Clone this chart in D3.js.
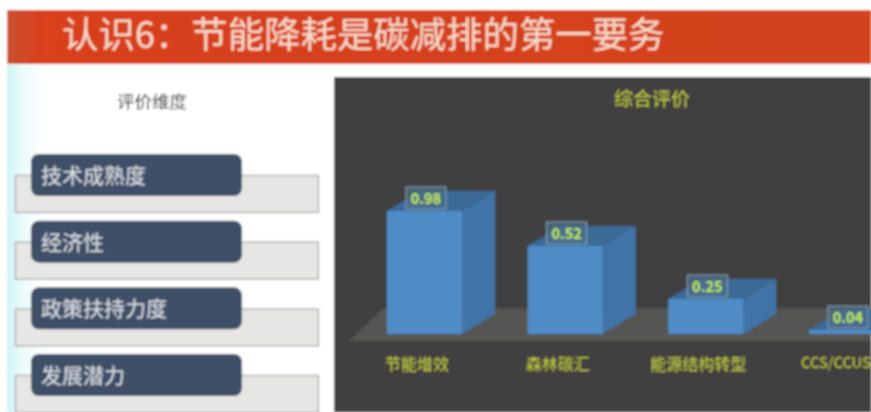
<!DOCTYPE html>
<html><head><meta charset="utf-8">
<script src="https://cdn.jsdelivr.net/npm/d3@7"></script>
<style>html,body{margin:0;padding:0;background:#fff;overflow:hidden}svg{display:block}text{font-family:"Noto Sans CJK SC","Noto Sans",sans-serif}</style>
</head><body><svg id="c" width="871" height="412"></svg>
<script>
const pageTitle = "认识6：节能降耗是碳减排的第一要务";
const leftTitle = "评价维度";
const chartTitle = "综合评价";
const dimensions = ["技术成熟度", "经济性", "政策扶持力度", "发展潜力"];
const categories = ["节能增效", "森林碳汇", "能源结构转型", "CCS/CCUS"];
const values = [0.98, 0.52, 0.25, 0.04];

const W = 871, H = 412;
const svg = d3.select("#c");
const defs = svg.append("defs");
const blur = defs.append("filter").attr("id","soft").attr("x","-5%").attr("y","-5%").attr("width","110%").attr("height","110%");
blur.append("feGaussianBlur").attr("stdDeviation",0.8);
const lg = defs.append("linearGradient").attr("id","edge");
lg.append("stop").attr("offset",0).attr("stop-color","#cff4f4");
lg.append("stop").attr("offset",0.4).attr("stop-color","#ecfbfb");
lg.append("stop").attr("offset",1).attr("stop-color","#ffffff");
const tg = defs.append("linearGradient").attr("id","band");
tg.append("stop").attr("offset",0).attr("stop-color","#c9512f");
tg.append("stop").attr("offset",0.04).attr("stop-color","#d9401d");
tg.append("stop").attr("offset",1).attr("stop-color","#d2431f");

const root = svg.append("g").attr("filter","url(#soft)");
root.append("rect").attr("width",W).attr("height",H).attr("fill","#fff");
root.append("rect").attr("x",7).attr("y",65).attr("width",38).attr("height",H-65).attr("fill","url(#edge)");
root.append("rect").attr("x",7).attr("y",10).attr("width",W-7).attr("height",54).attr("fill","url(#band)");
root.append("text").text(pageTitle).attr("x",62).attr("y",48).attr("font-size",36.4).attr("fill","#f8dccb");
root.append("text").text(leftTitle).attr("x",152).attr("y",108).attr("text-anchor","middle").attr("font-size",17.5).attr("fill","#222");

// left column
const rowY = d3.scalePoint().domain(dimensions).range([154,354]);
const rows = root.selectAll("g.row").data(dimensions).join("g").attr("class","row")
  .attr("transform",d=>`translate(0,${rowY(d)})`);
rows.append("rect").attr("x",15.5).attr("y",21.5).attr("width",303).attr("height",37)
  .attr("fill","#e6e7e4").attr("stroke","#a8a8a8").attr("stroke-width",1.3);
rows.append("rect").attr("x",31).attr("y",0).attr("width",211).attr("height",42).attr("rx",8)
  .attr("fill","#3f5068");
rows.append("text").text(d=>d).attr("x",41).attr("y",29).attr("font-size",21).attr("fill","#dfe3e8");

// chart panel
root.append("rect").attr("x",334).attr("y",77).attr("width",W-334).attr("height",H-77).attr("fill","#3f3f3f");
root.append("text").text(chartTitle).attr("x",652).attr("y",106).attr("text-anchor","middle").attr("font-size",19).attr("fill","#c3d03c");

const dx = 33, dy = -20, base = 334;
root.append("path").attr("d",`M349,341L383,308.5L${W},308.5L${W},341Z`).attr("fill","#555453");

const x = d3.scaleBand().domain(categories).range([387,884]).paddingInner(0.4666).paddingOuter(0).align(0);
// The drawn bars are not proportional to their labels, so the scale follows the picture's heights.
const y = d3.scaleLinear().domain([0,0.04,0.25,0.52,0.98]).range([base,330,299,246,211]);

const bars = root.selectAll("g.bar").data(categories).join("g").attr("class","bar");
bars.append("path").attr("fill","#3a6a96").attr("d",(d,i)=>{
  const l=x(d), r=l+x.bandwidth(), t=y(values[i]);
  return `M${l},${t}L${l+dx},${t+dy}L${r+dx},${t+dy}L${r},${t}Z`;});
bars.append("path").attr("fill","#3f73a6").attr("d",(d,i)=>{
  const r=x(d)+x.bandwidth(), t=y(values[i]);
  return `M${r},${t}L${r+dx},${t+dy}L${r+dx},${base+dy}L${r},${base}Z`;});
bars.append("rect").attr("fill","#4f8cc6").attr("x",d=>x(d)).attr("width",x.bandwidth())
  .attr("y",(d,i)=>y(values[i])).attr("height",(d,i)=>base-y(values[i]));
bars.append("rect").attr("x",d=>x(d)+19).attr("y",(d,i)=>y(values[i])-24).attr("width",40).attr("height",22)
  .attr("fill","#4a6f8c").attr("fill-opacity",0.75).attr("stroke","#8ba3b3").attr("stroke-width",1);
bars.append("text").text((d,i)=>d3.format(".2f")(values[i])).attr("x",d=>x(d)+39).attr("y",(d,i)=>y(values[i])-7.5)
  .attr("text-anchor","middle").attr("font-size",14.5).attr("font-weight",700).attr("fill","#c8ee4e");
bars.append("text").text(d=>d).attr("x",d=>x(d)+(d==="CCS/CCUS"?27:30)).attr("y",d=>d==="CCS/CCUS"?368:370)
  .attr("text-anchor","middle").attr("font-size",d=>d==="CCS/CCUS"?14.8:16).attr("fill","#c4cf3e");
</script></body></html>
